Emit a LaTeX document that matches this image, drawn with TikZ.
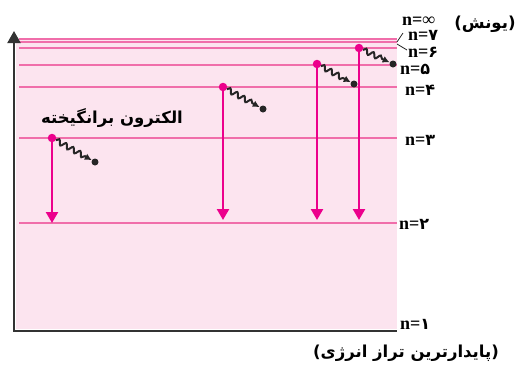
\documentclass[tikz,border=0pt]{standalone}
\usepackage{fontspec}
\setmainfont{Liberation Serif}
\newfontfamily\farsifont[Script=Arabic]{DejaVu Sans}
\TeXXeTstate=1
\usetikzlibrary{arrows.meta,decorations.pathmorphing}

\definecolor{bandfill}{HTML}{FCE4EF}
\definecolor{levelpink}{HTML}{F06EAA}
\definecolor{jumppink}{HTML}{EC008C}
\definecolor{axisgray}{HTML}{333333}

\newcommand{\nlev}[1]{\textbf{n=}{\farsifont\bfseries\fontsize{16}{16}\selectfont #1}}

\tikzset{
  levelline/.style={levelpink,line width=1.3pt},
  axisline/.style={axisgray,line width=2pt},
  transition/.style={jumppink,line width=2.4pt,-{Triangle[width=12pt,length=11pt]}},
  electron/.style={circle,fill=jumppink,inner sep=0pt,minimum size=8.5pt},
  photonend/.style={circle,fill=black!85,inner sep=0pt,minimum size=7pt},
  photon/.style={black!85,line width=2pt,decorate,
    decoration={snake,amplitude=2.5pt,segment length=8pt,post length=7pt},
    -{Latex[length=7pt,width=7pt]}},
  levtick/.style={black!85,line width=0.8pt},
  nlabel/.style={font=\fontsize{18}{18}\selectfont,inner sep=0pt,anchor=base west,
    text height=10pt,text depth=0pt},
  falabel/.style={font=\fontsize{16.5}{16.5}\selectfont\farsifont\bfseries,inner sep=1pt}
}

\begin{document}
\begin{tikzpicture}[x=1pt,y=-1pt]
    \useasboundingbox (0,0) rectangle (517,365);

    % pink band behind the levels
    \fill[bandfill] (16,38) rectangle (397,329);

    % energy levels
    \foreach \y in {39,42,48,65,87,138,223}
        \draw[levelline] (19,\y) -- (397,\y);

    % axes
    \coordinate (top) at (14,31);
    \coordinate (origin) at (14,331);
    \coordinate (right) at (397,331);
    \draw[axisline,{Triangle[width=13pt,length=12pt]}-] (top) -- (origin) -- (right);

    % level labels
    \node[nlabel] (ninf) at (402,25) {\textbf{n=∞}};
    \node[nlabel] (n7) at (408,40) {\nlev{۷}};
    \node[nlabel] (n6) at (408,57) {\nlev{۶}};
    \node[nlabel] (n5) at (400,74) {\nlev{۵}};
    \node[nlabel] (n4) at (405,95) {\nlev{۴}};
    \node[nlabel] (n3) at (405,145) {\nlev{۳}};
    \node[nlabel] (n2) at (399,229) {\nlev{۲}};
    \node[nlabel] (n1) at (400,329) {\nlev{۱}};

    \coordinate (t7) at (397,42);
    \coordinate (t6) at (397,44);
    \draw[levtick] (t7) -- (403,33);
    \draw[levtick] (t6) -- (407,50);

    \node[falabel] (ionize) at (485,24) {\beginR(یونش)\endR};
    \node[falabel] (ground) at (406,353) {\beginR(پایدارترین تراز انرژی)\endR};
    \node[falabel] (excited) at (112,118) {\beginR الکترون برانگیخته\endR};

    % excited electrons
    \node[electron] (e3) at (52,138) {};
    \node[electron] (e4) at (223,87) {};
    \node[electron] (e5) at (317,64) {};
    \node[electron] (e6) at (359,48) {};

    \coordinate (g3) at (52,223);
    \coordinate (g4) at (223,220);
    \coordinate (g5) at (317,220);
    \coordinate (g6) at (359,220);

    \draw[transition] (e3) -- (g3);
    \draw[transition] (e4) -- (g4);
    \draw[transition] (e5) -- (g5);
    \draw[transition] (e6) -- (g6);

    % emitted photons
    \node[photonend] (p3) at (95,162) {};
    \node[photonend] (p4) at (263,109) {};
    \node[photonend] (p5) at (354,84) {};
    \node[photonend] (p6) at (393,64) {};

    \draw[photon] (e3) -- (p3);
    \draw[photon] (e4) -- (p4);
    \draw[photon] (e5) -- (p5);
    \draw[photon] (e6) -- (p6);
\end{tikzpicture}
\end{document}
